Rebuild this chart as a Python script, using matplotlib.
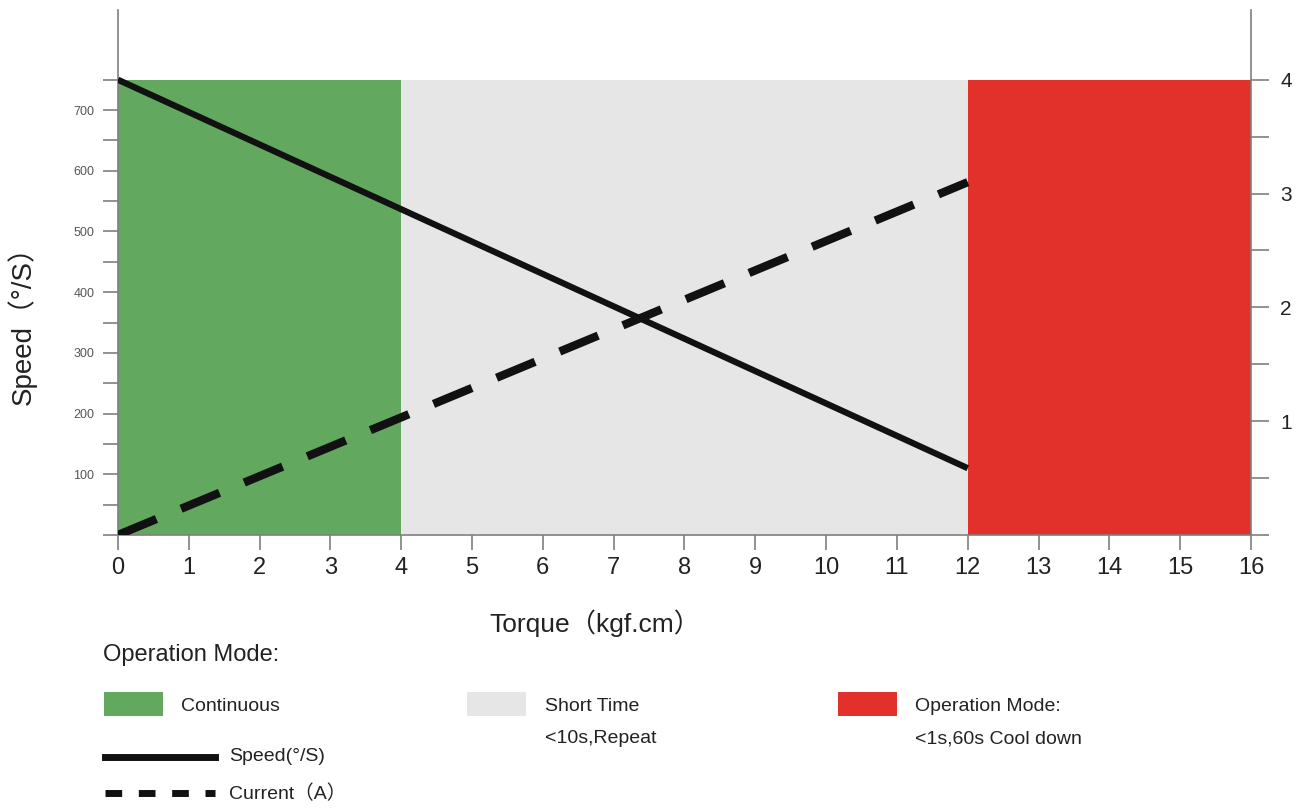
import matplotlib.pyplot as plt
import numpy as np
from matplotlib.patches import Rectangle
from matplotlib.lines import Line2D

# operating zones along torque axis (kgf.cm)
zone_edges = [0, 4, 12, 16]
zone_colors = ['#62a85f', '#e6e6e6', '#e2302b']
zone_top = 750

# speed curve (deg/s) and current curve (A)
torque = [0, 12]
speed = [750, 110]
current = [0, 3.1]

x_ticks = list(range(0, 17))
speed_ticks = list(range(0, 751, 50))
speed_labels = [str(v) if v % 100 == 0 and 0 < v < 750 else '' for v in speed_ticks]
current_ticks = list(np.arange(0, 4.01, 0.5))
current_labels = [str(int(v)) if v == int(v) and v > 0 else '' for v in current_ticks]

plt.rcParams['font.family'] = ['Liberation Sans', 'Noto Sans CJK SC', 'DejaVu Sans']
narrow = ['Liberation Sans Narrow', 'Liberation Sans', 'Noto Sans CJK SC']
gray = '#7f7f7f'
ink = '#222222'

fig = plt.figure(figsize=(13.09, 8.08), dpi=100)
ax = fig.add_axes([0.0901, 0.3379, 0.8656, 0.6498])

for i, c in enumerate(zone_colors):
    ax.fill_between([zone_edges[i], zone_edges[i + 1]], 0, zone_top,
                    color=c, linewidth=0, zorder=1)

ax.plot(torque, speed, color='#111111', linewidth=4.5, solid_capstyle='butt', zorder=3)

ax.set_xlim(0, 16)
ax.set_ylim(0, 865)
ax.set_xticks(x_ticks)
ax.set_xticklabels([str(v) for v in x_ticks], fontsize=17, color=ink)
ax.set_yticks(speed_ticks)
ax.set_yticklabels(speed_labels, fontsize=9, color='#555555')
ax.tick_params(axis='x', length=11, width=1.2, color=gray, pad=5)
ax.tick_params(axis='y', length=11, width=1.2, color=gray, pad=6)
for s in ['top', 'right']:
    ax.spines[s].set_visible(False)
for s in ['left', 'bottom']:
    ax.spines[s].set_color(gray)
    ax.spines[s].set_linewidth(1.2)

ax2 = ax.twinx()
ax2.plot(torque, current, color='#111111', linewidth=6, dashes=(5.0, 3.2),
         dash_capstyle='butt', zorder=3)
ax2.set_ylim(0, 865 * 4 / 750)
ax2.set_yticks(current_ticks)
ax2.set_yticklabels(current_labels, fontsize=15, color=ink)
ax2.tick_params(axis='y', length=13, width=1.2, color=gray, pad=8)
for s in ['top', 'left', 'bottom']:
    ax2.spines[s].set_visible(False)
ax2.spines['right'].set_color(gray)
ax2.spines['right'].set_linewidth(1.2)

fig.text(0.017, 0.606, 'Speed（°/S）', rotation=90, fontsize=20, color=ink,
         ha='center', va='center')
fig.text(0.4545, 0.229, 'Torque（kgf.cm）', fontsize=19, color=ink,
         ha='center', va='center')

# legend area
fig.text(0.079, 0.189, 'Operation Mode:', fontsize=17, family=narrow, color=ink,
         va='center')
legend_items = [
    (0.0795, zone_colors[0], ['Continuous']),
    (0.357, zone_colors[1], ['Short Time', '<10s,Repeat']),
    (0.640, zone_colors[2], ['Operation Mode:', '<1s,60s Cool down']),
]
for x0, c, lines in legend_items:
    fig.add_artist(Rectangle((x0, 0.114), 0.045, 0.030, transform=fig.transFigure,
                             facecolor=c, edgecolor='none'))
    for k, t in enumerate(lines):
        fig.text(x0 + 0.059, 0.126 - k * 0.04, t, fontsize=14, family=narrow,
                 color=ink, va='center')

fig.add_artist(Line2D([0.080, 0.164], [0.063, 0.063], transform=fig.transFigure,
                      color='#111111', linewidth=5))
fig.add_artist(Line2D([0.080, 0.164], [0.018, 0.018], transform=fig.transFigure,
                      color='#111111', linewidth=5, dashes=(2.4, 2.4)))
fig.text(0.175, 0.064, 'Speed(°/S)', fontsize=14, family=narrow, color=ink, va='center')
fig.text(0.175, 0.018, 'Current（A）', fontsize=14, family=narrow, color=ink, va='center')

fig.savefig('out.png', dpi=100)
